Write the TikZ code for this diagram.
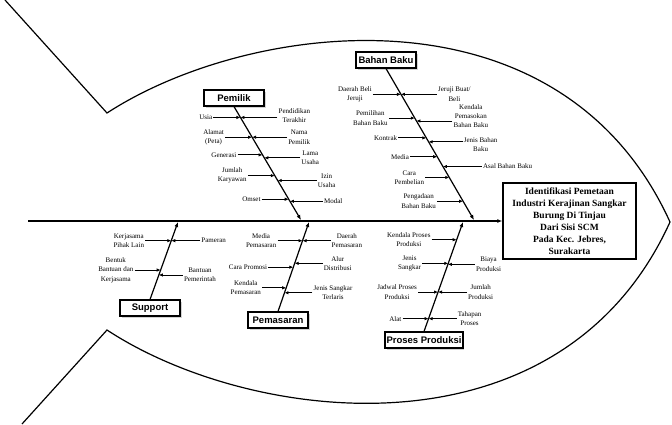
\documentclass[tikz,border=0pt]{standalone}
\usepackage{fontspec}
\setmainfont{Liberation Serif}
\newfontfamily\catfont{Liberation Sans}
\usetikzlibrary{arrows.meta,positioning,shadows}

\begin{document}
\begin{tikzpicture}[x=1pt, y=-1pt,
  node distance=27pt,
  cat/.style={draw, line width=1.1pt, fill=white, minimum width=60pt, minimum height=16pt,
              inner sep=1.5pt, font=\catfont\bfseries\fontsize{9.5}{10}\selectfont,
              drop shadow={shadow xshift=1.5pt, shadow yshift=-1.5pt, opacity=.35}},
  hd/.style={draw, line width=1.4pt, fill=white, minimum width=133pt, minimum height=76pt,
             align=center, inner sep=2pt, font=\bfseries\fontsize{9.5}{12}\selectfont},
  lbl/.style={align=center, inner sep=1pt, font=\fontsize{7}{9.3}\selectfont},
  fish/.style={line width=1.2pt},
  bone/.style={-{Latex[length=5pt,width=4pt]}, line width=1.2pt},
  arr/.style={-{Latex[length=4pt,width=3.5pt]}, line width=.9pt}
]
\useasboundingbox (0,0) rectangle (672,424);

\draw[fish] (5,0) -- (107,113) .. controls (250,20) and (560,-20) .. (670,222)
  .. controls (560,464) and (250,424) .. (107,330) -- (22,424);

\node[hd] (head) at (569.5,221) {Identifikasi Pemetaan\\Industri Kerajinan Sangkar\\Burung Di Tinjau\\Dari Sisi SCM\\Pada Kec. Jebres,\\Surakarta};
\coordinate (tail) at (28,221);
\draw[bone, line width=1.6pt] (tail) -- (head);

\node[cat] (pemilik) at (234,98) {Pemilik};
\node[cat] (bahan) at (386,60) {Bahan Baku};
\node[cat] (support) at (150,308) {Support};
\node[cat] (pemasaran) at (278,320) {Pemasaran};
\node[cat] (proses) at (424,340) {Proses Produksi};

\coordinate (pmEnd) at (301,220); \coordinate (bbEnd) at (474,220);
\coordinate (spEnd) at (178,222); \coordinate (psEnd) at (309,222);
\coordinate (prEnd) at (463,222);

\draw[bone] (pemilik.south) -- (pmEnd)
  coordinate[pos=.096] (pm1) coordinate[pos=.27] (pm2) coordinate[pos=.426] (pm3)
  coordinate[pos=.452] (pm4) coordinate[pos=.609] (pm5) coordinate[pos=.652] (pm6)
  coordinate[pos=.817] (pm7) coordinate[pos=.835] (pm8);
\draw[bone] (bahan.south) -- (bbEnd)
  coordinate[pos=.17] (bb1) coordinate[pos=.327] (bb2) coordinate[pos=.346] (bb3)
  coordinate[pos=.458] (bb4) coordinate[pos=.484] (bb5) coordinate[pos=.582] (bb6)
  coordinate[pos=.647] (bb7) coordinate[pos=.719] (bb8) coordinate[pos=.876] (bb9);
\draw[bone] (support.north) -- (spEnd)
  coordinate[pos=.759] (sp1) coordinate[pos=.38] (sp2) coordinate[pos=.316] (sp3);
\draw[bone] (pemasaran.north) -- (psEnd)
  coordinate[pos=.791] (ps1) coordinate[pos=.495] (ps2) coordinate[pos=.538] (ps3)
  coordinate[pos=.264] (ps4) coordinate[pos=.209] (ps5);
\draw[bone] (proses.north) -- (prEnd)
  coordinate[pos=.838] (pr1) coordinate[pos=.622] (pr2) coordinate[pos=.613] (pr3)
  coordinate[pos=.36] (pr4) coordinate[pos=.117] (pr5);

\node[lbl, left=of pm1] (usia) {Usia};
\node[lbl, right=37pt of pm1, yshift=2pt] (pendidikan) {Pendidikan\\Terakhir};
\node[lbl, left=of pm2] (alamat) {Alamat\\(Peta)};
\node[lbl, right=35pt of pm2] (nama) {Nama\\Pemilik};
\node[lbl, left=25pt of pm3] (generasi) {Generasi};
\node[lbl, right=36pt of pm4] (lama) {Lama\\Usaha};
\node[lbl, left=of pm5] (karyawan) {Jumlah\\Karyawan};
\node[lbl, right=39pt of pm6] (izin) {Izin\\Usaha};
\node[lbl, left=of pm7] (omset) {Omset};
\node[lbl, right=33pt of pm8] (modal) {Modal};
\draw[arr] (usia) -- (pm1); \draw[arr] (pendidikan.west |- pm1) -- (pm1);
\draw[arr] (alamat) -- (pm2); \draw[arr] (nama) -- (pm2);
\draw[arr] (generasi) -- (pm3); \draw[arr] (lama) -- (pm4);
\draw[arr] (karyawan) -- (pm5); \draw[arr] (izin) -- (pm6);
\draw[arr] (omset) -- (pm7); \draw[arr] (modal) -- (pm8);

\node[lbl, left=28pt of bb1] (daerahbeli) {Daerah Beli\\Jeruji};
\node[lbl, right=36pt of bb1] (jerujibuat) {Jeruji Buat/\\Beli};
\node[lbl, left=26pt of bb2] (pemilihan) {Pemilihan\\Bahan Baku};
\node[lbl, right=36pt of bb3, yshift=5pt] (kendalapasok) {Kendala\\Pemasokan\\Bahan Baku};
\node[lbl, left=28pt of bb4] (kontrak) {Kontrak};
\node[lbl, right=34pt of bb5, yshift=-3pt] (jenisbahan) {Jenis Bahan\\Baku};
\node[lbl, left=of bb6] (media) {Media};
\node[lbl, right=39pt of bb7] (asal) {Asal Bahan Baku};
\node[lbl, left=24pt of bb8] (carabeli) {Cara\\Pembelian};
\node[lbl, left=26pt of bb9] (pengadaan) {Pengadaan\\Bahan Baku};
\draw[arr] (daerahbeli) -- (bb1); \draw[arr] (jerujibuat) -- (bb1);
\draw[arr] (pemilihan) -- (bb2); \draw[arr] (kendalapasok.west |- bb3) -- (bb3);
\draw[arr] (kontrak) -- (bb4); \draw[arr] (jenisbahan.west |- bb5) -- (bb5);
\draw[arr] (media) -- (bb6); \draw[arr] (asal) -- (bb7);
\draw[arr] (carabeli) -- (bb8); \draw[arr] (pengadaan) -- (bb9);

\node[lbl, left=26pt of sp1] (kerjasama) {Kerjasama\\Pihak Lain};
\node[lbl, right=29pt of sp1] (pameran) {Pameran};
\node[lbl, left=26pt of sp2] (bentuk) {Bentuk\\Bantuan dan\\Kerjasama};
\node[lbl, right=24pt of sp3] (bantuan) {Bantuan\\Pemerintah};
\draw[arr] (kerjasama) -- (sp1); \draw[arr] (pameran) -- (sp1);
\draw[arr] (bentuk) -- (sp2); \draw[arr] (bantuan) -- (sp3);

\node[lbl, left=25pt of ps1] (mediapsr) {Media\\Pemasaran};
\node[lbl, right=28pt of ps1] (daerahpsr) {Daerah\\Pemasaran};
\node[lbl, left=25pt of ps2] (promosi) {Cara Promosi};
\node[lbl, right=28pt of ps3] (alur) {Alur\\Distribusi};
\node[lbl, left=24pt of ps4] (kendalapsr) {Kendala\\Pemasaran};
\node[lbl, right=28pt of ps5] (terlaris) {Jenis Sangkar\\Terlaris};
\draw[arr] (mediapsr) -- (ps1); \draw[arr] (daerahpsr) -- (ps1);
\draw[arr] (promosi) -- (ps2); \draw[arr] (alur) -- (ps3);
\draw[arr] (kendalapsr) -- (ps4); \draw[arr] (terlaris) -- (ps5);

\node[lbl, left=25pt of pr1] (kendalaproses) {Kendala Proses\\Produksi};
\node[lbl, left=26pt of pr2] (jenissangkar) {Jenis\\Sangkar};
\node[lbl, right=27pt of pr3] (biaya) {Biaya\\Produksi};
\node[lbl, left=20pt of pr4] (jadwal) {Jadwal Proses\\Produksi};
\node[lbl, right=29pt of pr4] (jumlahprod) {Jumlah\\Produksi};
\node[lbl, left=26pt of pr5] (alat) {Alat};
\node[lbl, right=28pt of pr5] (tahapan) {Tahapan\\Proses};
\draw[arr] (kendalaproses) -- (pr1); \draw[arr] (jenissangkar) -- (pr2);
\draw[arr] (biaya) -- (pr3); \draw[arr] (jadwal) -- (pr4);
\draw[arr] (jumlahprod) -- (pr4); \draw[arr] (alat) -- (pr5);
\draw[arr] (tahapan) -- (pr5);
\end{tikzpicture}
\end{document}
